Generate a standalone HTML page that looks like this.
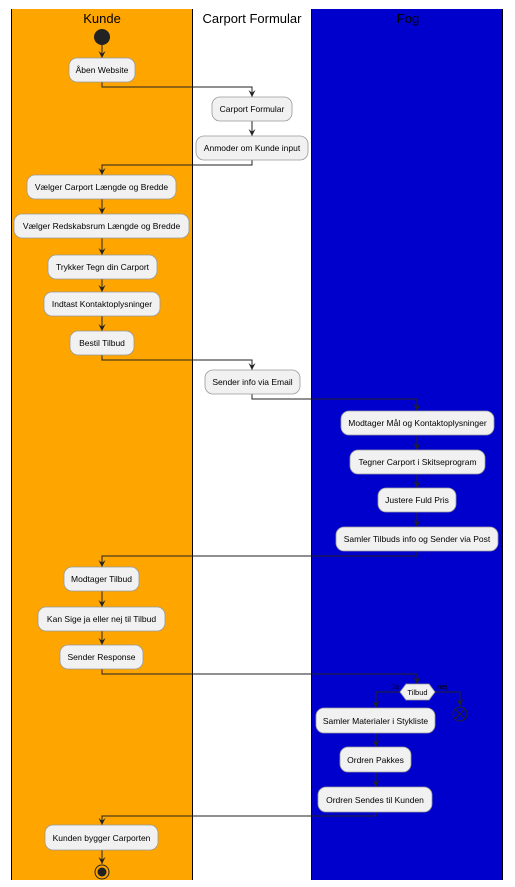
<!DOCTYPE html>
<html><head><meta charset="utf-8"><style>body{margin:0;background:#fff}svg{display:block}</style></head><body>
<svg width="515" height="887" xmlns="http://www.w3.org/2000/svg" font-family="Liberation Sans, sans-serif">
<defs><marker id="a" viewBox="0 0 10 10" refX="10" refY="5" markerWidth="7" markerHeight="7" orient="auto"><path d="M0,0 L10,5 L0,10 L4,5 Z" fill="#222"/></marker></defs>
<rect x="11" y="9" width="181" height="871" fill="#FFA500"/>
<rect x="311" y="9" width="192" height="871" fill="#0000CD"/>
<g stroke="#000" stroke-width="1"><line x1="11.5" y1="9" x2="11.5" y2="880"/><line x1="192.5" y1="9" x2="192.5" y2="880"/><line x1="311.5" y1="9" x2="311.5" y2="880"/><line x1="502.5" y1="9" x2="502.5" y2="880"/></g>
<g font-size="13" text-anchor="middle" fill="#000"><text x="102" y="23">Kunde</text><text x="252" y="23">Carport Formular</text><text x="408" y="23">Fog</text></g>
<circle cx="102" cy="37" r="8" fill="#222"/>
<g fill="none" stroke="#222" stroke-width="1" marker-end="url(#a)">
<line x1="102" y1="45" x2="102" y2="58"/>
<polyline points="102,82 102,87 252,87 252,97"/>
<line x1="252" y1="121" x2="252" y2="136"/>
<polyline points="252,160 252,165 102,165 102,175"/>
<line x1="102" y1="199" x2="102" y2="214"/>
<line x1="102" y1="238" x2="102" y2="255"/>
<line x1="102" y1="279" x2="102" y2="292"/>
<line x1="102" y1="316" x2="102" y2="331"/>
<polyline points="102,355 102,360 252,360 252,370"/>
<polyline points="252,394 252,399 417,399 417,411"/>
<line x1="417" y1="435" x2="417" y2="450"/>
<line x1="417" y1="474" x2="417" y2="488"/>
<line x1="417" y1="512" x2="417" y2="527"/>
<polyline points="417,551 417,556 102,556 102,567"/>
<line x1="102" y1="591" x2="102" y2="607"/>
<line x1="102" y1="631" x2="102" y2="645"/>
<polyline points="102,669 102,674 417,674 417,684"/>
<polyline points="400,692 376,692 376,708"/>
<polyline points="435,692 460,692 460,706"/>
<line x1="376" y1="733" x2="376" y2="747"/>
<line x1="376" y1="772" x2="376" y2="787"/>
<polyline points="376,812 376,816 102,816 102,825"/>
<line x1="102" y1="850" x2="102" y2="864"/>
</g>
<g fill="#F1F1F1" stroke="#999" stroke-width="0.8">
<rect x="69" y="58" width="66" height="24" rx="8"/>
<rect x="212" y="97" width="80" height="24" rx="8"/>
<rect x="196" y="136" width="112" height="24" rx="8"/>
<rect x="27" y="175" width="149" height="24" rx="8"/>
<rect x="14" y="214" width="175" height="24" rx="8"/>
<rect x="48" y="255" width="109" height="24" rx="8"/>
<rect x="44" y="292" width="116" height="24" rx="8"/>
<rect x="70" y="331" width="64" height="24" rx="8"/>
<rect x="205" y="370" width="95" height="24" rx="8"/>
<rect x="341" y="411" width="153" height="24" rx="8"/>
<rect x="350" y="450" width="135" height="24" rx="8"/>
<rect x="378" y="488" width="78" height="24" rx="8"/>
<rect x="336" y="527" width="162" height="24" rx="8"/>
<rect x="64" y="567" width="75" height="24" rx="8"/>
<rect x="38" y="607" width="127" height="24" rx="8"/>
<rect x="60" y="645" width="83" height="24" rx="8"/>
<polygon points="400,692 406,684 429,684 435,692 429,700 406,700"/>
<rect x="316" y="708" width="119" height="25" rx="8"/>
<rect x="340" y="747" width="71" height="25" rx="8"/>
<rect x="318" y="787" width="114" height="25" rx="8"/>
<rect x="45" y="825" width="113" height="25" rx="8"/>
</g>
<g font-size="8.5" text-anchor="middle" fill="#000">
<text x="102" y="73">Åben Website</text>
<text x="252" y="112">Carport Formular</text>
<text x="252" y="151">Anmoder om Kunde input</text>
<text x="101.5" y="190">Vælger Carport Længde og Bredde</text>
<text x="101.5" y="229">Vælger Redskabsrum Længde og Bredde</text>
<text x="102.5" y="270">Trykker Tegn din Carport</text>
<text x="102" y="307">Indtast Kontaktoplysninger</text>
<text x="102" y="346">Bestil Tilbud</text>
<text x="252.5" y="385">Sender info via Email</text>
<text x="417.5" y="426">Modtager Mål og Kontaktoplysninger</text>
<text x="417.5" y="465">Tegner Carport i Skitseprogram</text>
<text x="417" y="503">Justere Fuld Pris</text>
<text x="417" y="542">Samler Tilbuds info og Sender via Post</text>
<text x="101.5" y="582">Modtager Tilbud</text>
<text x="101.5" y="622">Kan Sige ja eller nej til Tilbud</text>
<text x="101.5" y="660">Sender Response</text>
<text x="417.5" y="695" font-size="7.5">Tilbud</text>
<text x="375.5" y="724">Samler Materialer i Stykliste</text>
<text x="375.5" y="763">Ordren Pakkes</text>
<text x="375" y="803">Ordren Sendes til Kunden</text>
<text x="101.5" y="841">Kunden bygger Carporten</text>
<text x="395" y="689" font-size="7.5">Ja</text>
<text x="442" y="689" font-size="7.5">nej</text>
</g>
<g stroke="#222" stroke-width="1" fill="none"><circle cx="460" cy="714" r="7"/><line x1="455" y1="709" x2="465" y2="719"/><line x1="465" y1="709" x2="455" y2="719"/></g>
<circle cx="102" cy="872" r="7" fill="none" stroke="#222"/><circle cx="102" cy="872" r="4.5" fill="#222"/>
</svg>
</body></html>
